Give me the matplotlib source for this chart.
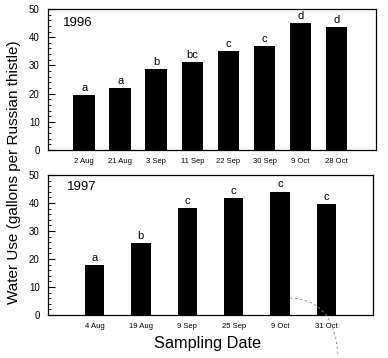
import matplotlib
matplotlib.use('Agg')
import matplotlib.pyplot as plt
from matplotlib.path import Path
from matplotlib.patches import PathPatch
from matplotlib.ticker import MultipleLocator

plt.rcParams['font.family'] = ['Liberation Sans', 'DejaVu Sans']

# 1996 data
dates96 = ['2 Aug', '21 Aug', '3 Sep', '11 Sep', '22 Sep', '30 Sep', '9 Oct', '28 Oct']
use96 = [19.5, 22.1, 28.6, 31.1, 35.1, 36.9, 45.0, 43.7]
letters96 = ['a', 'a', 'b', 'bc', 'c', 'c', 'd', 'd']

# 1997 data
dates97 = ['4 Aug', '19 Aug', '9 Sep', '25 Sep', '9 Oct', '31 Oct']
use97 = [18.0, 25.6, 38.1, 41.9, 44.1, 39.5]
letters97 = ['a', 'b', 'c', 'c', 'c', 'c']

fig = plt.figure(figsize=(3.88, 3.58), dpi=100)
ax1 = fig.add_axes([0.124, 0.581, 0.845, 0.394])
ax2 = fig.add_axes([0.124, 0.120, 0.838, 0.391])


def panel(ax, dates, vals, letters, width, xlim, year, yearpos):
    x = range(len(vals))
    ax.bar(x, vals, width=width, color='black', zorder=3)
    for xi, v, l in zip(x, vals, letters):
        ax.annotate(l, (xi, v), xytext=(0, 1.5), textcoords='offset points',
                    ha='center', va='bottom', fontsize=8)
    ax.set_xlim(*xlim)
    ax.set_ylim(0, 50)
    ax.set_xticks(list(x))
    ax.set_xticklabels(dates, fontsize=5.5)
    ax.tick_params(axis='x', length=0, pad=6)
    ax.yaxis.set_major_locator(MultipleLocator(10))
    ax.yaxis.set_minor_locator(MultipleLocator(2))
    ax.tick_params(axis='y', which='major', direction='in', length=5, width=0.8, labelsize=7, pad=6)
    ax.tick_params(axis='y', which='minor', direction='in', length=2.5, width=0.6)
    ax.text(yearpos[0], yearpos[1], year, transform=ax.transAxes, fontsize=9.5)
    for s in ax.spines.values():
        s.set_linewidth(0.9)


panel(ax1, dates96, use96, letters96, 0.6, (-1.0, 8.09), '1996', (0.046, 0.88))
panel(ax2, dates97, use97, letters97, 0.42, (-1.0, 6.01), '1997', (0.057, 0.89))

fig.text(0.036, 0.52, 'Water Use (gallons per Russian thistle)', rotation=90,
         ha='center', va='center', fontsize=11)
fig.text(0.536, 0.028, 'Sampling Date', ha='center', va='baseline', fontsize=11.7)

# faint scan artefact arc
W, H = 388, 358
pts = [(290 / W, 1 - 298 / H), (336 / W, 1 - 300 / H), (338 / W, 1 - 357 / H)]
arc = PathPatch(Path(pts, [Path.MOVETO, Path.CURVE3, Path.CURVE3]),
                transform=fig.transFigure, fill=False, edgecolor='#888888',
                linestyle=(0, (3, 3)), linewidth=0.6, zorder=0)
fig.patches.append(arc)

fig.savefig('out.png', dpi=100)
